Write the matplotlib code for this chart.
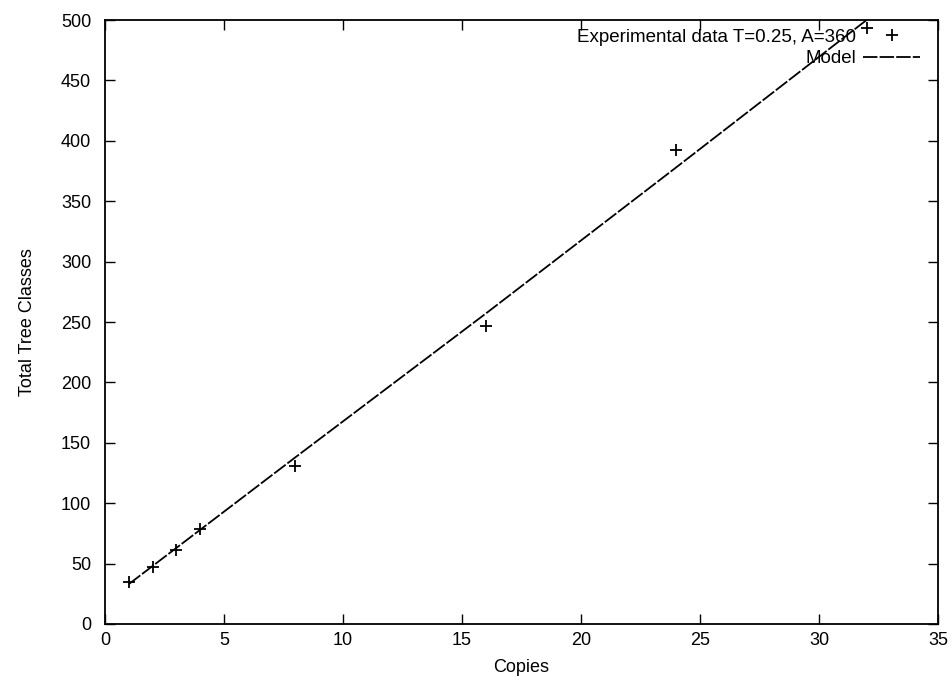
import matplotlib
matplotlib.use("Agg")
import matplotlib.pyplot as plt

copies = [1, 2, 3, 4, 8, 16, 24, 32]
experimental = [35, 47, 61, 79, 131, 247, 392, 493]
model = [33, 48, 63, 78, 138, 257, 378, 500]

x_ticks = [0, 5, 10, 15, 20, 25, 30, 35]
y_ticks = [0, 50, 100, 150, 200, 250, 300, 350, 400, 450, 500]

plt.rcParams['font.family'] = ['Liberation Sans', 'DejaVu Sans']

fig = plt.figure(figsize=(9.52, 6.83), dpi=100)
ax = fig.add_axes([0.1103, 0.0864, 0.875, 0.8843])

ax.plot(copies, experimental, linestyle='none', marker='+', color='black',
        markersize=9, markeredgewidth=1.3, label='Experimental data T=0.25, A=360')
ax.plot(copies, model, color='black', linewidth=1.3, linestyle=(0, (8, 1.2)),
        label='Model')

ax.set_xlim(0, 35)
ax.set_ylim(0, 500)
ax.set_xticks(x_ticks)
ax.set_yticks(y_ticks)
ax.tick_params(direction='in', top=True, right=True, length=7, width=1,
               labelsize=13)
ax.tick_params(axis='x', pad=6)
ax.tick_params(axis='y', pad=10)
for s in ax.spines.values():
    s.set_linewidth(1.3)

ax.set_xlabel('Copies', fontsize=13, labelpad=7)
ax.set_ylabel('Total Tree Classes', fontsize=13, labelpad=18)

leg = ax.legend(loc='upper right', bbox_to_anchor=(0.978, 0.986),
                frameon=False, markerfirst=False,
                fontsize=13.5, handlelength=3.0, borderaxespad=0.0,
                labelspacing=0.25, handletextpad=0.4, borderpad=0.0)
for t in leg.get_texts():
    t.set_ha('right')

fig.savefig('out.png', dpi=100)
